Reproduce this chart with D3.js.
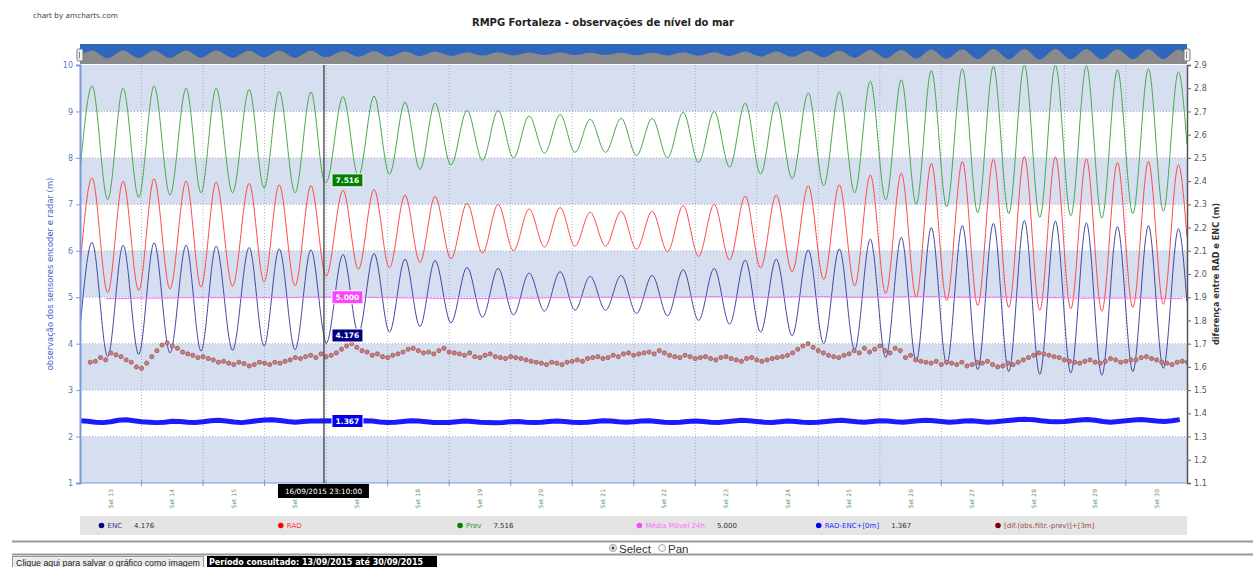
<!DOCTYPE html>
<html>
<head>
<meta charset="utf-8">
<script src="https://cdn.jsdelivr.net/npm/d3@7"></script>
<style>
  body { margin: 0; background: #fff; }
  svg { display: block; }
</style>
</head>
<body>
<svg id="chart" width="1253" height="567"></svg>
<script>
// ---- Data (hours counted from 13/09/2015 00:00) ----
// Tide turning points: start, then alternating high / low, then end of period
const tideHours = [0,
  4.7, 10.8, 16.8, 22.9, 28.9, 35.1, 41.4, 47.2, 53.1, 59.5, 66.0, 71.8, 77.7, 83.9,
  90.1, 96.0, 102.6, 108.6, 114.7, 120.7, 126.8, 132.6, 138.5, 144.7, 151.0, 157.0,
  163.1, 169.1, 175.2, 181.2, 187.3, 193.1, 199.0, 205.0, 211.1, 217.1, 223.2, 229.2,
  235.3, 241.3, 247.4, 253.4, 259.5, 265.5, 271.6, 277.8, 284.1, 290.1, 296.2, 302.2,
  308.3, 314.3, 320.4, 326.2, 332.1, 338.1, 344.2, 350.2, 356.3, 362.3, 368.4, 374.4,
  380.5, 386.5, 392.6, 398.6, 404.7, 410.7, 416.8, 422.6, 428.5, 431.8];

const prevLevels = [7.7,
  9.55, 7.10, 9.50, 7.15, 9.55, 7.20, 9.50, 7.25, 9.50, 7.25, 9.47, 7.35, 9.43, 7.25,
  9.42, 7.47, 9.32, 7.60, 9.33, 7.65, 9.20, 7.75, 9.18, 7.85, 9.02, 7.95,
  9.02, 8.00, 8.90, 8.10, 8.93, 8.12, 8.83, 8.12, 8.85, 8.05, 8.85, 8.00,
  8.98, 7.90, 9.00, 7.80, 9.18, 7.65, 9.20, 7.55, 9.40, 7.40, 9.42, 7.25,
  9.65, 7.10, 9.68, 7.00, 9.88, 6.95, 9.92, 6.82, 9.97, 6.80, 10.00, 6.72,
  10.00, 6.75, 9.98, 6.70, 9.90, 6.80, 9.92, 6.85, 9.85, 8.3];

const radLevels = [5.65,
  7.57, 5.10, 7.50, 5.15, 7.55, 5.18, 7.50, 5.22, 7.48, 5.24, 7.45, 5.33, 7.42, 5.25,
  7.40, 5.45, 7.30, 5.60, 7.32, 5.63, 7.20, 5.75, 7.17, 5.83, 7.02, 5.95,
  7.00, 6.00, 6.90, 6.08, 6.93, 6.10, 6.83, 6.10, 6.85, 6.03, 6.85, 5.98,
  6.97, 5.88, 7.00, 5.80, 7.18, 5.63, 7.20, 5.55, 7.40, 5.38, 7.42, 5.25,
  7.63, 5.08, 7.67, 5.00, 7.88, 4.93, 7.92, 4.82, 7.97, 4.78, 8.03, 4.72,
  8.02, 4.75, 7.98, 4.70, 7.90, 4.78, 7.92, 4.85, 7.85, 6.3];

const encLevels = [4.32,
  6.18, 3.72, 6.12, 3.77, 6.17, 3.80, 6.12, 3.84, 6.10, 3.86, 6.07, 3.95, 6.04, 3.87,
  6.02, 4.00, 5.92, 4.22, 5.94, 4.25, 5.82, 4.37, 5.79, 4.45, 5.64, 4.57,
  5.62, 4.62, 5.52, 4.70, 5.55, 4.72, 5.45, 4.72, 5.47, 4.65, 5.47, 4.60,
  5.59, 4.50, 5.62, 4.42, 5.80, 4.25, 5.82, 4.17, 6.02, 4.00, 6.04, 3.87,
  6.25, 3.70, 6.29, 3.62, 6.50, 3.55, 6.54, 3.44, 6.59, 3.40, 6.65, 3.34,
  6.64, 3.37, 6.60, 3.32, 6.52, 3.40, 6.54, 3.47, 6.47, 4.9];

// 24 h moving average, every 6 h from 10:00 on the 13th
const mediaStartHour = 10, mediaStep = 6;
const mediaLevels = [4.97, 4.97, 4.98, 4.98, 4.98, 4.99, 4.99, 4.99, 4.99, 4.99, 4.99, 4.99, 4.99, 5.00, 5.00,
  5.00, 5.00, 5.00, 4.99, 4.99, 4.98, 4.98, 4.97, 4.97, 4.97, 4.97, 4.98, 4.98, 4.98, 4.99,
  4.99, 5.00, 5.00, 5.00, 4.99, 4.99, 4.99, 5.00, 5.00, 5.01, 5.01, 5.00, 5.00, 5.00, 5.00,
  5.01, 5.01, 5.01, 5.00, 5.00, 5.00, 5.00, 5.01, 5.01, 5.01, 5.00, 5.00, 5.00, 5.00, 5.00,
  4.99, 4.99, 4.99, 4.98, 4.98, 4.98, 4.98, 4.98, 4.98, 4.97, 4.97];

// RAD-ENC difference (right axis), every 3 h
const diffStep = 3;
const radEncDiff = [
  1.368, 1.366, 1.362, 1.360, 1.364, 1.370, 1.372, 1.368,
  1.364, 1.362, 1.360, 1.362, 1.366, 1.365, 1.362, 1.361,
  1.364, 1.368, 1.370, 1.367, 1.363, 1.360, 1.364, 1.368,
  1.371, 1.372, 1.369, 1.365, 1.362, 1.365, 1.367, 1.367,
  1.368, 1.367, 1.364, 1.362, 1.365, 1.368, 1.367, 1.363,
  1.361, 1.362, 1.365, 1.368, 1.367, 1.364, 1.361, 1.360,
  1.361, 1.364, 1.367, 1.365, 1.362, 1.360, 1.359, 1.361,
  1.364, 1.365, 1.362, 1.361, 1.362, 1.365, 1.367, 1.365,
  1.362, 1.361, 1.362, 1.365, 1.368, 1.367, 1.364, 1.362,
  1.364, 1.367, 1.368, 1.365, 1.362, 1.361, 1.362, 1.365,
  1.367, 1.365, 1.362, 1.361, 1.364, 1.367, 1.370, 1.368,
  1.365, 1.362, 1.361, 1.364, 1.367, 1.365, 1.362, 1.361,
  1.362, 1.365, 1.368, 1.370, 1.367, 1.364, 1.362, 1.365,
  1.368, 1.367, 1.364, 1.362, 1.365, 1.368, 1.370, 1.368,
  1.365, 1.362, 1.364, 1.367, 1.368, 1.365, 1.362, 1.364,
  1.367, 1.370, 1.373, 1.374, 1.372, 1.368, 1.365, 1.364,
  1.365, 1.368, 1.371, 1.373, 1.370, 1.365, 1.362, 1.365,
  1.368, 1.371, 1.373, 1.370, 1.367, 1.365, 1.368, 1.373];

// Filtered observation minus prediction, +3 m, every 2 h from 04:00 on the 13th
const difStartHour = 4, difStep = 2;
const difLevels = [
  3.60, 3.62, 3.70, 3.65, 3.80, 3.76, 3.72, 3.65, 3.60, 3.50, 3.47, 3.58,
  3.72, 3.85, 3.97, 4.02, 3.95, 3.90, 3.82, 3.78, 3.75, 3.70, 3.72, 3.68,
  3.65, 3.60, 3.62, 3.58, 3.55, 3.60, 3.57, 3.52, 3.55, 3.60, 3.58, 3.55,
  3.60, 3.58, 3.62, 3.65, 3.70, 3.68, 3.72, 3.75, 3.70, 3.78, 3.72, 3.75,
  3.80, 3.88, 3.95, 4.00, 3.92, 3.85, 3.82, 3.75, 3.78, 3.72, 3.70, 3.75,
  3.78, 3.82, 3.88, 3.90, 3.85, 3.80, 3.82, 3.78, 3.85, 3.90, 3.82, 3.80,
  3.78, 3.75, 3.80, 3.72, 3.70, 3.75, 3.78, 3.72, 3.70, 3.68, 3.72, 3.70,
  3.68, 3.65, 3.62, 3.60, 3.58, 3.55, 3.60, 3.58, 3.55, 3.60, 3.62, 3.65,
  3.62, 3.68, 3.70, 3.72, 3.68, 3.70, 3.75, 3.72, 3.78, 3.80, 3.75, 3.78,
  3.80, 3.82, 3.78, 3.85, 3.80, 3.75, 3.72, 3.70, 3.75, 3.72, 3.68, 3.70,
  3.72, 3.68, 3.65, 3.70, 3.72, 3.68, 3.65, 3.62, 3.68, 3.70, 3.65, 3.62,
  3.65, 3.68, 3.70, 3.72, 3.75, 3.80, 3.88, 3.95, 4.00, 3.92, 3.85, 3.80,
  3.75, 3.72, 3.70, 3.75, 3.78, 3.85, 3.80, 3.90, 3.82, 3.88, 3.95, 3.85,
  3.80, 3.90, 3.85, 3.70, 3.75, 3.65, 3.62, 3.60, 3.58, 3.62, 3.55, 3.60,
  3.58, 3.55, 3.60, 3.52, 3.55, 3.60, 3.58, 3.62, 3.55, 3.50, 3.52, 3.58,
  3.55, 3.60, 3.65, 3.70, 3.75, 3.80, 3.78, 3.75, 3.72, 3.70, 3.65, 3.62,
  3.60, 3.58, 3.62, 3.65, 3.60, 3.58, 3.62, 3.68, 3.65, 3.60, 3.62, 3.65,
  3.65, 3.70, 3.72, 3.68, 3.65, 3.60, 3.58, 3.55, 3.60, 3.62, 3.60, 3.55];

// Cursor reading at 16/09/2015 23:10
const cursorHour = 95 + 10 / 60;
const cursorLabel = "16/09/2015 23:10:00";
const cursorEnc = 4.176, cursorPrev = 7.516, cursorMedia = 5.000, cursorDiff = 1.367;

const leftTicks = [1, 2, 3, 4, 5, 6, 7, 8, 9, 10];
const rightTicks = [1.1, 1.2, 1.3, 1.4, 1.5, 1.6, 1.7, 1.8, 1.9, 2.0, 2.1, 2.2, 2.3, 2.4, 2.5, 2.6, 2.7, 2.8, 2.9];
const dayLabels = d3.range(13, 31).map(d => "Set " + d);

const legendNames = ["ENC", "RAD", "Prev", "Média Móvel 24h", "RAD-ENC+[0m]", "[dif.(obs.filtr.-prev)]+[3m]"];
const legendValues = ["4.176", "", "7.516", "5.000", "1.367", ""];
const seriesColors = ["#000080", "#ff0000", "#008000", "#ff44ff", "#0000ff", "#800000"];
const legendTextColors = ["#3a3aa0", "#ff3a3a", "#2f9a2f", "#ff6aff", "#2a2aff", "#9a4a4a"];

// ---- Chart ----
const FONT = "'DejaVu Sans', Verdana, sans-serif";
const svg = d3.select("#chart");
const W = 1253;
const plot = { left: 80, right: 1187, top: 65, bottom: 483 };

const t0 = Date.UTC(2015, 8, 13, 0, 0);
const t1 = Date.UTC(2015, 8, 30, 23, 50);
const atHour = h => new Date(t0 + h * 3600000);

const x = d3.scaleUtc().domain([new Date(t0), new Date(t1)]).range([plot.left, plot.right]);
const yL = d3.scaleLinear().domain([1, 10]).range([plot.bottom, plot.top]);
const yR = d3.scaleLinear().domain([1.1, 2.9]).range([plot.bottom, plot.top]);

// header texts
svg.append("text").attr("x", 33).attr("y", 18)
  .attr("font-family", FONT).attr("font-size", 7.3).attr("fill", "#444")
  .text("chart by amcharts.com");
svg.append("text").attr("x", 603).attr("y", 26).attr("text-anchor", "middle")
  .attr("font-family", FONT).attr("font-size", 10).attr("font-weight", "bold").attr("fill", "#222")
  .text("RMPG Fortaleza - observações de nível do mar");

// clip for plot
svg.append("clipPath").attr("id", "plotClip").append("rect")
  .attr("x", plot.left).attr("y", plot.top)
  .attr("width", plot.right - plot.left).attr("height", plot.bottom - plot.top);

// alternating bands
const bands = svg.append("g");
leftTicks.slice(0, -1).forEach(v => {
  bands.append("rect")
    .attr("x", plot.left).attr("width", plot.right - plot.left)
    .attr("y", yL(v + 1)).attr("height", yL(v) - yL(v + 1))
    .attr("fill", v % 2 === 1 ? "#d5dfef" : "#ffffff");
});

// horizontal grid
const grid = svg.append("g");
leftTicks.slice(1, -1).forEach(v => {
  grid.append("line").attr("x1", plot.left).attr("x2", plot.right)
    .attr("y1", yL(v)).attr("y2", yL(v))
    .attr("stroke", "#9aa0aa").attr("stroke-width", 0.8).attr("stroke-dasharray", "1,2");
});
// vertical grid at each midnight
const midnights = d3.utcDay.range(new Date(t0 + 86400000), new Date(t1));
midnights.forEach(d => {
  grid.append("line").attr("x1", x(d)).attr("x2", x(d))
    .attr("y1", plot.top).attr("y2", plot.bottom)
    .attr("stroke", "#9aa0aa").attr("stroke-width", 0.8).attr("stroke-dasharray", "1,2");
});

// series
const series = svg.append("g").attr("clip-path", "url(#plotClip)");
function withCursor(levels, value) {
  const pts = tideHours.map((h, i) => ({ h, v: levels[i] }));
  if (value != null) pts.push({ h: cursorHour, v: value });
  return pts.sort((a, b) => a.h - b.h);
}
const tideLine = d3.line().x(d => x(atHour(d.h))).y(d => yL(d.v)).curve(d3.curveMonotoneX);

series.append("path").datum(withCursor(prevLevels, cursorPrev))
  .attr("d", tideLine).attr("fill", "none").attr("stroke", "#4aa84a").attr("stroke-width", 1);
series.append("path").datum(withCursor(radLevels, null))
  .attr("d", tideLine).attr("fill", "none").attr("stroke", "#ff4a4a").attr("stroke-width", 1);
series.append("path").datum(withCursor(encLevels, cursorEnc))
  .attr("d", tideLine).attr("fill", "none").attr("stroke", "#4646a6").attr("stroke-width", 1);

const mediaPts = mediaLevels.map((v, i) => ({ h: mediaStartHour + i * mediaStep, v }));
series.append("path").datum(mediaPts)
  .attr("d", tideLine).attr("fill", "none").attr("stroke", "#ff66ff").attr("stroke-width", 1);

const diffPts = radEncDiff.map((v, i) => ({ h: i * diffStep, v }));
series.append("path").datum(diffPts)
  .attr("d", d3.line().x(d => x(atHour(d.h))).y(d => yR(d.v)))
  .attr("fill", "none").attr("stroke", "#1a1aff").attr("stroke-width", 5)
  .attr("stroke-linejoin", "round");

const difPts = difLevels.map((v, i) => ({ h: difStartHour + i * difStep, v }));
series.append("g").selectAll("circle").data(difPts).join("circle")
  .attr("cx", d => x(atHour(d.h))).attr("cy", d => yL(d.v)).attr("r", 2.1)
  .attr("fill", "#c98080").attr("stroke", "#9a4848").attr("stroke-width", 0.7);

// axes
const leftAxis = svg.append("g").attr("transform", `translate(${plot.left},0)`)
  .call(d3.axisLeft(yL).tickValues(leftTicks).tickSize(4).tickPadding(3).tickFormat(d3.format("d")));
leftAxis.select(".domain").attr("stroke", "#7b98d8").attr("stroke-width", 2);
leftAxis.selectAll(".tick line").attr("stroke", "#7b98d8");
leftAxis.selectAll("text").attr("fill", "#5878c8").attr("font-family", FONT).attr("font-size", 8);

const rightAxis = svg.append("g").attr("transform", `translate(${plot.right},0)`)
  .call(d3.axisRight(yR).tickValues(rightTicks).tickSize(4).tickPadding(3).tickFormat(d3.format(".1f")));
rightAxis.select(".domain").attr("stroke", "#555").attr("stroke-width", 1.5);
rightAxis.selectAll(".tick line").attr("stroke", "#666");
rightAxis.selectAll("text").attr("fill", "#555").attr("font-family", FONT).attr("font-size", 8);

// bottom axis: ticks at midnight, labels at noon
const bottom = svg.append("g").attr("transform", `translate(0,${plot.bottom})`);
bottom.append("line").attr("x1", plot.left).attr("x2", plot.right)
  .attr("stroke", "#7b98d8").attr("stroke-width", 1.2);
bottom.selectAll("line.tk").data(midnights).join("line").attr("class", "tk")
  .attr("x1", d => x(d)).attr("x2", d => x(d)).attr("y1", -3).attr("y2", 3)
  .attr("stroke", "#7b98d8");
const noons = d3.range(13, 31).map(d => new Date(Date.UTC(2015, 8, d, 12)));
bottom.selectAll("text").data(noons).join("text")
  .attr("transform", d => `translate(${x(d) + 2},6) rotate(-90)`)
  .attr("text-anchor", "end")
  .attr("font-family", FONT).attr("font-size", 6).attr("fill", "#5a9a5a")
  .text((d, i) => dayLabels[i]);

// axis titles
svg.append("text")
  .attr("transform", `translate(53,${(plot.top + plot.bottom) / 2}) rotate(-90)`)
  .attr("text-anchor", "middle").attr("font-family", FONT).attr("font-size", 8.4)
  .attr("fill", "#3e62c4").text("observação dos sensores encoder e radar (m)");
svg.append("text")
  .attr("transform", `translate(1219,${(plot.top + plot.bottom) / 2}) rotate(-90)`)
  .attr("text-anchor", "middle").attr("font-family", FONT).attr("font-size", 8.2)
  .attr("font-weight", "bold").attr("fill", "#333").text("diferença entre RAD e ENC (m)");

// scrollbar with preview of the prediction
const sb = { top: 44, bottom: 64 };
svg.append("rect").attr("x", plot.left).attr("y", sb.top)
  .attr("width", plot.right - plot.left).attr("height", sb.bottom - sb.top).attr("fill", "#2f66be");
const prevPts = withCursor(prevLevels, cursorPrev);
const yS = d3.scaleLinear()
  .domain([d3.min(prevLevels) - 1.4, d3.max(prevLevels)]).range([sb.bottom, sb.top + 5]);
svg.append("path").datum(prevPts)
  .attr("d", d3.area().x(d => x(atHour(d.h))).y0(sb.bottom).y1(d => yS(d.v)).curve(d3.curveMonotoneX))
  .attr("fill", "#8a8a8a");
[plot.left, plot.right].forEach(gx => {
  svg.append("rect").attr("x", gx - 3).attr("y", 49).attr("width", 6).attr("height", 12)
    .attr("rx", 1.5).attr("fill", "#f4f4f4").attr("stroke", "#777").attr("stroke-width", 1);
  svg.append("line").attr("x1", gx - 0.5).attr("x2", gx - 0.5).attr("y1", 51.5).attr("y2", 58.5)
    .attr("stroke", "#888").attr("stroke-width", 1);
});

// cursor
const cx = x(atHour(cursorHour));
svg.append("line").attr("x1", cx).attr("x2", cx).attr("y1", plot.top).attr("y2", plot.bottom)
  .attr("stroke", "#333").attr("stroke-width", 1.2);

const balloons = [
  { v: yL(cursorPrev), text: cursorPrev.toFixed(3), fill: "#008000" },
  { v: yL(cursorMedia), text: cursorMedia.toFixed(3), fill: "#ff44ff" },
  { v: yL(cursorEnc), text: cursorEnc.toFixed(3), fill: "#000080" },
  { v: yR(cursorDiff), text: cursorDiff.toFixed(3), fill: "#0000ee" }
];
balloons.forEach(b => {
  svg.append("rect").attr("x", cx + 8).attr("y", b.v - 6.5).attr("width", 31).attr("height", 13)
    .attr("rx", 1).attr("fill", b.fill).attr("stroke", "#fff").attr("stroke-width", 1);
  svg.append("text").attr("x", cx + 23.5).attr("y", b.v + 3).attr("text-anchor", "middle")
    .attr("font-family", FONT).attr("font-size", 7.5).attr("font-weight", "bold").attr("fill", "#fff")
    .text(b.text);
});
svg.append("rect").attr("x", cx - 46).attr("y", 484).attr("width", 91).attr("height", 14)
  .attr("fill", "#000");
svg.append("text").attr("x", cx - 0.5).attr("y", 494).attr("text-anchor", "middle")
  .attr("font-family", FONT).attr("font-size", 7.3).attr("fill", "#fff").text(cursorLabel);

// legend
svg.append("rect").attr("x", plot.left).attr("y", 516).attr("width", plot.right - plot.left)
  .attr("height", 19).attr("fill", "#e4e4e4");
const legendX = d3.scaleLinear().domain([0, 5]).range([101.5, 998]);
legendNames.forEach((name, i) => {
  const lx = legendX(i);
  svg.append("circle").attr("cx", lx).attr("cy", 525.5).attr("r", 2.8).attr("fill", seriesColors[i]);
  const t = svg.append("text").attr("x", lx + 6).attr("y", 528)
    .attr("font-family", FONT).attr("font-size", 7).attr("fill", legendTextColors[i]).text(name);
  if (legendValues[i]) {
    const w = t.node().getComputedTextLength();
    svg.append("text").attr("x", lx + 6 + w + 12).attr("y", 528)
      .attr("font-family", FONT).attr("font-size", 7).attr("fill", "#333").text(legendValues[i]);
  }
});

// bottom controls
svg.append("line").attr("x1", 12).attr("x2", W).attr("y1", 541.5).attr("y2", 541.5)
  .attr("stroke", "#999").attr("stroke-width", 2);
svg.append("line").attr("x1", 12).attr("x2", W).attr("y1", 554.5).attr("y2", 554.5)
  .attr("stroke", "#999").attr("stroke-width", 2);
svg.append("circle").attr("cx", 613).attr("cy", 548).attr("r", 3.5)
  .attr("fill", "#f4f4f4").attr("stroke", "#999");
svg.append("circle").attr("cx", 613).attr("cy", 548).attr("r", 1.5).attr("fill", "#444");
svg.append("text").attr("x", 619).attr("y", 552.5)
  .attr("font-family", "'Liberation Sans', Arial, sans-serif").attr("font-size", 11.5).attr("fill", "#333").text("Select");
svg.append("circle").attr("cx", 662).attr("cy", 548).attr("r", 3.5)
  .attr("fill", "#f4f4f4").attr("stroke", "#aaa");
svg.append("text").attr("x", 668).attr("y", 552.5)
  .attr("font-family", "'Liberation Sans', Arial, sans-serif").attr("font-size", 11.5).attr("fill", "#333").text("Pan");

svg.append("rect").attr("x", 12.5).attr("y", 556.5).attr("width", 191).attr("height", 12)
  .attr("fill", "#ececec").attr("stroke", "#999");
svg.append("text").attr("x", 108).attr("y", 565.5).attr("text-anchor", "middle")
  .attr("font-family", "'Liberation Sans', Arial, sans-serif").attr("font-size", 8.8).attr("fill", "#222")
  .text("Clique aqui para salvar o gráfico como imagem");
svg.append("rect").attr("x", 207).attr("y", 556).attr("width", 230).attr("height", 11).attr("fill", "#000");
svg.append("text").attr("x", 209).attr("y", 565)
  .attr("font-family", FONT).attr("font-size", 8).attr("font-weight", "bold").attr("fill", "#fff")
  .text("Período consultado: 13/09/2015 até 30/09/2015");
</script>
</body>
</html>
